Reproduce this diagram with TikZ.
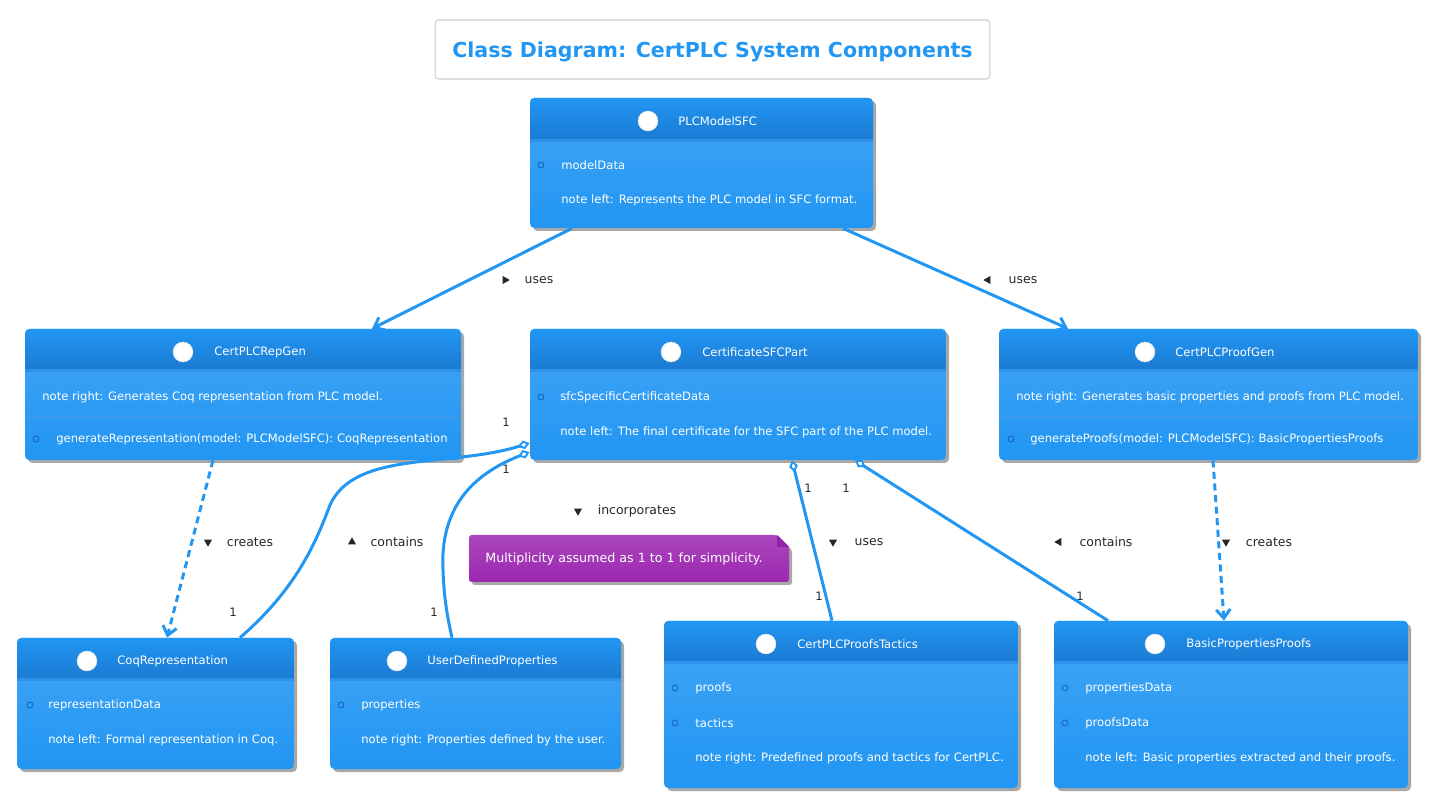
\documentclass[tikz,border=0pt]{standalone}
\usepackage{fontspec}
\setmainfont{DejaVu Sans}
\usetikzlibrary{arrows.meta, positioning, fit, shapes.geometric}
\definecolor{umlblue}{HTML}{2196F3}
\definecolor{headtop}{HTML}{2196F3}
\definecolor{headbot}{HTML}{1B7BD3}
\definecolor{headline}{HTML}{2C92EC}
\definecolor{bodytop}{HTML}{42A5F5}
\definecolor{bodybot}{HTML}{2196F3}
\definecolor{rowline}{HTML}{3A9BEE}
\definecolor{dotblue}{HTML}{1565C0}
\definecolor{notetop}{HTML}{AB47BC}
\definecolor{notebot}{HTML}{9C27B0}
\definecolor{notefold}{HTML}{8E24AA}
\definecolor{boxshadow}{HTML}{A8A8A8}

\tikzset{
  titlebox/.style = {draw=black!20, fill=white, rounded corners=2pt, line width=0.6pt,
    minimum width=11.1cm, minimum height=1.18cm, text=umlblue, text depth=0pt,
    font=\bfseries\fontsize{11.7}{13}\selectfont},
  classname/.style = {text=white, anchor=west, inner sep=0pt, font=\fontsize{6.6}{7}\selectfont},
  member/.style = {text=white, anchor=west, inner sep=0pt, font=\fontsize{6.6}{7}\selectfont},
  notetext/.style = {text=white, inner sep=0pt, font=\fontsize{7.2}{8}\selectfont},
  headcirc/.style = {circle, fill=white, draw=black!10, line width=0.3pt, minimum size=11.3pt, inner sep=0pt},
  vis/.style = {circle, draw=dotblue, line width=0.5pt, minimum size=3.4pt, inner sep=0pt},
  link/.style = {draw=umlblue, line width=1.7pt},
  assoc/.style = {link, -{Straight Barb[length=5pt, width=8pt]}},
  dep/.style = {link, dash pattern=on 4pt off 2.6pt, -{Straight Barb[length=5pt, width=8pt]}},
  agg/.style = {link, {Diamond[fill=white, length=7pt, width=5pt, line width=1.1pt]}-},
  mult/.style = {text=black!85, inner sep=0pt, font=\fontsize{6.6}{7}\selectfont},
  elabel/.style = {text=black!85, inner sep=0pt, font=\fontsize{7.1}{8}\selectfont},
  dirmark/.style = {isosceles triangle, isosceles triangle apex angle=60, fill=black!85,
    inner sep=0pt, minimum height=4pt, minimum width=4pt, shape border rotate=#1},
}

% class box: name, left, top, right, bottom, header bottom
\newcommand{\classbox}[6]{%
  \fill[boxshadow, rounded corners=2.5pt] (#2+3,#3+3) rectangle (#4+3,#5+3);
  \begin{scope}
    \clip[rounded corners=2.5pt] (#2,#3) rectangle (#4,#5);
    \shade[top color=bodytop, bottom color=bodybot] (#2,#3) rectangle (#4,#5);
    \shade[top color=headtop, bottom color=headbot] (#2,#3) rectangle (#4,#6);
    \fill[headline] (#2,#6) rectangle (#4,#6+3);
  \end{scope}
  \node[fit={(#2,#3) (#4,#5)}, inner sep=0pt] (#1) {};
}

\begin{document}
\begin{tikzpicture}[x=0.02cm, y=-0.02cm]
	\useasboundingbox (0,0) rectangle (1434,803);

	\node[titlebox] (title) at (712.5,49.5) {Class Diagram: CertPLC System Components};

	% classes
	\classbox{plc}{530}{98}{873}{228}{139}
	\node[headcirc] (plc-c) at (648,121) {};
	\node[classname] (plc-t) at (678,121) {PLCModelSFC};
	\node[vis] (plc-v1) at (541,165) {};
	\node[member] (plc-a1) at (561,165) {modelData};
	\node[member] (plc-n) at (561,200) {note left: Represents the PLC model in SFC format.};

	\classbox{repgen}{25}{329}{461}{460}{369}
	\node[headcirc] (repgen-c) at (183,352) {};
	\node[classname] (repgen-t) at (214,352) {CertPLCRepGen};
	\node[member] (repgen-n) at (42,397) {note right: Generates Coq representation from PLC model.};
	\draw[rowline, line width=0.6pt] (repgen.west |- 0,417) -- (repgen.east |- 0,417);
	\node[vis] (repgen-v1) at (36,439) {};
	\node[member] (repgen-m1) at (56,439) {generateRepresentation(model: PLCModelSFC): CoqRepresentation};

	\classbox{cert}{530}{329}{946}{460}{369}
	\node[headcirc] (cert-c) at (671,352) {};
	\node[classname] (cert-t) at (702,352) {CertificateSFCPart};
	\node[vis] (cert-v1) at (541,397) {};
	\node[member] (cert-a1) at (560,397) {sfcSpecificCertificateData};
	\node[member] (cert-n) at (560,432) {note left: The final certificate for the SFC part of the PLC model.};

	\classbox{proofgen}{999}{329}{1418}{460}{369}
	\node[headcirc] (proofgen-c) at (1145,352) {};
	\node[classname] (proofgen-t) at (1175,352) {CertPLCProofGen};
	\node[member] (proofgen-n) at (1016,397) {note right: Generates basic properties and proofs from PLC model.};
	\draw[rowline, line width=0.6pt] (proofgen.west |- 0,417) -- (proofgen.east |- 0,417);
	\node[vis] (proofgen-v1) at (1011,439) {};
	\node[member] (proofgen-m1) at (1030,439) {generateProofs(model: PLCModelSFC): BasicPropertiesProofs};

	\classbox{coq}{17}{638}{294}{769}{678}
	\node[headcirc] (coq-c) at (87,661) {};
	\node[classname] (coq-t) at (117,661) {CoqRepresentation};
	\node[vis] (coq-v1) at (30,705) {};
	\node[member] (coq-a1) at (48,705) {representationData};
	\node[member] (coq-n) at (48,740) {note left: Formal representation in Coq.};

	\classbox{udp}{330}{638}{621}{769}{678}
	\node[headcirc] (udp-c) at (397,661) {};
	\node[classname] (udp-t) at (427,661) {UserDefinedProperties};
	\node[vis] (udp-v1) at (341,705) {};
	\node[member] (udp-a1) at (361,705) {properties};
	\node[member] (udp-n) at (361,740) {note right: Properties defined by the user.};

	\classbox{tactics}{664}{621}{1018}{788}{661}
	\node[headcirc] (tactics-c) at (766,644) {};
	\node[classname] (tactics-t) at (797,644) {CertPLCProofsTactics};
	\node[vis] (tactics-v1) at (675,688) {};
	\node[member] (tactics-a1) at (695,688) {proofs};
	\node[vis] (tactics-v2) at (675,723) {};
	\node[member] (tactics-a2) at (695,723) {tactics};
	\node[member] (tactics-n) at (695,758) {note right: Predefined proofs and tactics for CertPLC.};

	\classbox{basic}{1054}{621}{1408}{788}{661}
	\node[headcirc] (basic-c) at (1155,644) {};
	\node[classname] (basic-t) at (1186,644) {BasicPropertiesProofs};
	\node[vis] (basic-v1) at (1065,688) {};
	\node[member] (basic-a1) at (1085,688) {propertiesData};
	\node[vis] (basic-v2) at (1065,723) {};
	\node[member] (basic-a2) at (1085,723) {proofsData};
	\node[member] (basic-n) at (1085,758) {note left: Basic properties extracted and their proofs.};

	% note
	\fill[boxshadow, rounded corners=1.5pt] (472,538) -- (780,538) -- (792,550) -- (792,585) -- (472,585) -- cycle;
	\shade[top color=notetop, bottom color=notebot, rounded corners=1.5pt] (469,535) -- (777,535) -- (789,547) -- (789,582) -- (469,582) -- cycle;
	\fill[notefold] (777,535) -- (777,547) -- (789,547) -- cycle;
	\node[notetext] (note) at (624,559) {Multiplicity assumed as 1 to 1 for simplicity.};

	% relations
	\draw[assoc] (plc.south -| 572,0) -- (repgen.north -| 372,0);
	\draw[assoc] (plc.south -| 843,0) -- (proofgen.north -| 1068,0);
	\draw[dep] (repgen.south -| 213,0) -- (coq.north -| 167,0);
	\draw[dep] (proofgen.south -| 1213,0) -- (basic.north -| 1224,0);
	\draw[agg] (cert.west |- 0,443) .. controls (450,468) and (355,450) .. (330,505) .. controls (315,545) and (295,590) .. (coq.north -| 240,0);
	\draw[agg] (cert.west |- 0,452) .. controls (470,475) and (440,510) .. (443,570) .. controls (444,600) and (448,620) .. (udp.north -| 452,0);
	\draw[agg] (cert.south -| 792,0) -- (tactics.north -| 832,0);
	\draw[agg] (cert.south -| 855,0) -- (basic.north -| 1108,0);

	% multiplicities
	\node[mult] (m1) at (506,422) {1};
	\node[mult] (m2) at (506,469) {1};
	\node[mult] (m3) at (233,612) {1};
	\node[mult] (m4) at (434,612) {1};
	\node[mult] (m5) at (808,488) {1};
	\node[mult] (m6) at (846,488) {1};
	\node[mult] (m7) at (819,596) {1};
	\node[mult] (m8) at (1080,596) {1};

	% labels
	\node[dirmark=30] (d1) at (505,280) {};
	\node[elabel] (l1) at (539,280) {uses};
	\node[dirmark=150] (d2) at (988,280) {};
	\node[elabel] (l2) at (1023,280) {uses};
	\node[dirmark=-100] (d3) at (208,542) {};
	\node[elabel] (l3) at (250,542) {creates};
	\node[dirmark=60] (d4) at (352,542) {};
	\node[elabel] (l4) at (397,542) {contains};
	\node[dirmark=-110] (d5) at (578,511) {};
	\node[elabel] (l5) at (637,511) {incorporates};
	\node[dirmark=-100] (d6) at (833,542) {};
	\node[elabel] (l6) at (869,542) {uses};
	\node[dirmark=150] (d7) at (1059,542) {};
	\node[elabel] (l7) at (1106,542) {contains};
	\node[dirmark=-90] (d8) at (1226,542) {};
	\node[elabel] (l8) at (1269,542) {creates};
\end{tikzpicture}
\end{document}
